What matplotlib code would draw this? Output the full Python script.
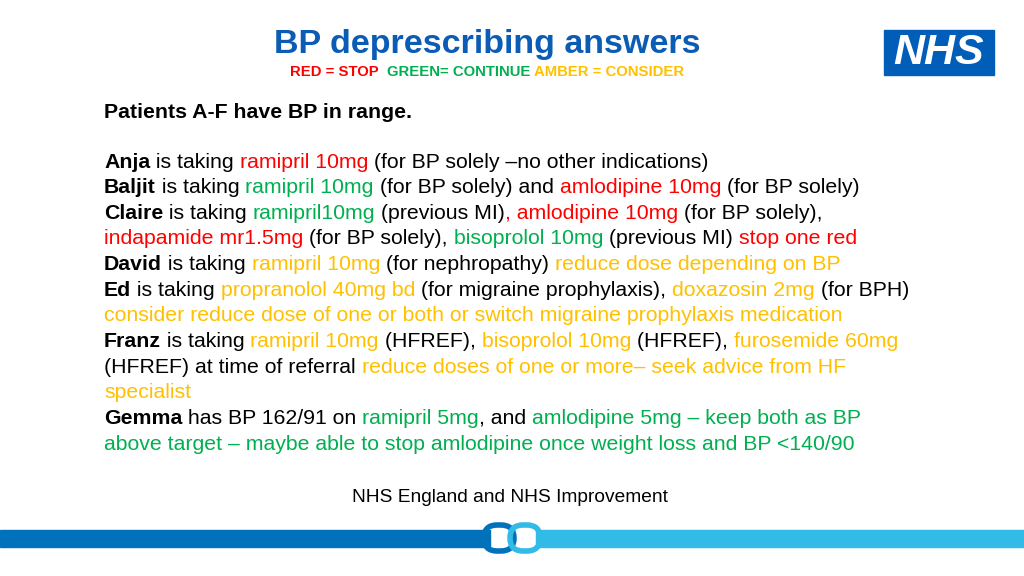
import matplotlib
matplotlib.use("Agg")
import matplotlib.pyplot as plt
from matplotlib.patches import Rectangle, FancyBboxPatch

RED, GREEN, AMBER, BLACK = "#ff0000", "#00b050", "#ffc000", "#000000"
BLUE = "#0b5cb5"

TITLE = "BP deprescribing answers"
KEY = [("RED = STOP  ", RED), ("GREEN= CONTINUE ", GREEN), ("AMBER = CONSIDER", AMBER)]
HEADER = "Patients A-F have BP in range."
FOOTER = "NHS England and NHS Improvement"

# each line: list of (text, colour, bold)
LINES = [
    [("Anja", BLACK, True), (" is taking ", BLACK, False), ("ramipril 10mg", RED, False),
     (" (for BP solely \u2013no other indications)", BLACK, False)],
    [("Baljit", BLACK, True), (" is taking ", BLACK, False), ("ramipril 10mg", GREEN, False),
     (" (for BP solely) and ", BLACK, False), ("amlodipine 10mg", RED, False),
     (" (for BP solely)", BLACK, False)],
    [("Claire", BLACK, True), (" is taking ", BLACK, False), ("ramipril10mg", GREEN, False),
     (" (previous MI)", BLACK, False), (", amlodipine 10mg", RED, False),
     (" (for BP solely),", BLACK, False)],
    [("indapamide mr1.5mg", RED, False), (" (for BP solely), ", BLACK, False),
     ("bisoprolol 10mg", GREEN, False), (" (previous MI) ", BLACK, False),
     ("stop one red", RED, False)],
    [("David", BLACK, True), (" is taking ", BLACK, False), ("ramipril 10mg", AMBER, False),
     (" (for nephropathy) ", BLACK, False), ("reduce dose depending on BP", AMBER, False)],
    [("Ed", BLACK, True), (" is taking ", BLACK, False), ("propranolol 40mg bd", AMBER, False),
     (" (for migraine prophylaxis), ", BLACK, False), ("doxazosin 2mg", AMBER, False),
     (" (for BPH)", BLACK, False)],
    [("consider reduce dose of one or both or switch migraine prophylaxis medication", AMBER, False)],
    [("Franz", BLACK, True), (" is taking ", BLACK, False), ("ramipril 10mg", AMBER, False),
     (" (HFREF), ", BLACK, False), ("bisoprolol 10mg", AMBER, False),
     (" (HFREF), ", BLACK, False), ("furosemide 60mg", AMBER, False)],
    [("(HFREF) at time of referral ", BLACK, False),
     ("reduce doses of one or more\u2013 seek advice from HF", AMBER, False)],
    [("specialist", AMBER, False)],
    [("Gemma", BLACK, True), (" has BP 162/91 on ", BLACK, False), ("ramipril 5mg", GREEN, False),
     (", and ", BLACK, False), ("amlodipine 5mg \u2013 keep both as BP", GREEN, False)],
    [("above target \u2013 maybe able to stop amlodipine once weight loss and BP <140/90", GREEN, False)],
]

plt.rcParams["font.family"] = "Liberation Sans"
fig = plt.figure(figsize=(10.24, 5.76), dpi=100)
ax = fig.add_axes([0, 0, 1, 1])
ax.set_xlim(0, 1024)
ax.set_ylim(576, 0)
ax.axis("off")
renderer = fig.canvas.get_renderer()


def draw_segments(x, y, segs, size):
    for text, color, bold in segs:
        t = ax.text(x, y, text, color=color, fontsize=size, va="center", ha="left",
                    fontweight="bold" if bold else "normal")
        x += t.get_window_extent(renderer).width


ax.text(487, 45, TITLE, color=BLUE, fontsize=24.5, fontweight="bold", ha="center", va="center")
draw_segments(290, 72, [(t, c, True) for t, c in KEY], 10.7)

# NHS logo
ax.add_patch(Rectangle((884, 30), 110, 45, color="#005eb8"))
ax.text(939, 53, "NHS", color="white", fontsize=31, fontweight="bold", style="italic",
        ha="center", va="center")

ax.text(104, 112, HEADER, color=BLACK, fontsize=15.3, fontweight="bold", va="center")
y0, dy = 162, 25.65
for i, segs in enumerate(LINES):
    draw_segments(104, y0 + i * dy, segs, 15.3)

ax.text(510, 497, FOOTER, color=BLACK, fontsize=13.8, ha="center", va="center")

# bottom bar and link icon
ax.add_patch(Rectangle((0, 530), 490, 17, color="#0072bc"))
ax.add_patch(Rectangle((536, 530), 488, 17, color="#33bbe8"))
ax.add_patch(FancyBboxPatch((484, 525), 30, 26, boxstyle="round,pad=0,rounding_size=13",
                            fill=False, ec="#0072bc", lw=4))
ax.add_patch(FancyBboxPatch((510, 525), 30, 26, boxstyle="round,pad=0,rounding_size=13",
                            fill=False, ec="#33bbe8", lw=4))

fig.savefig("out.png", dpi=100)
